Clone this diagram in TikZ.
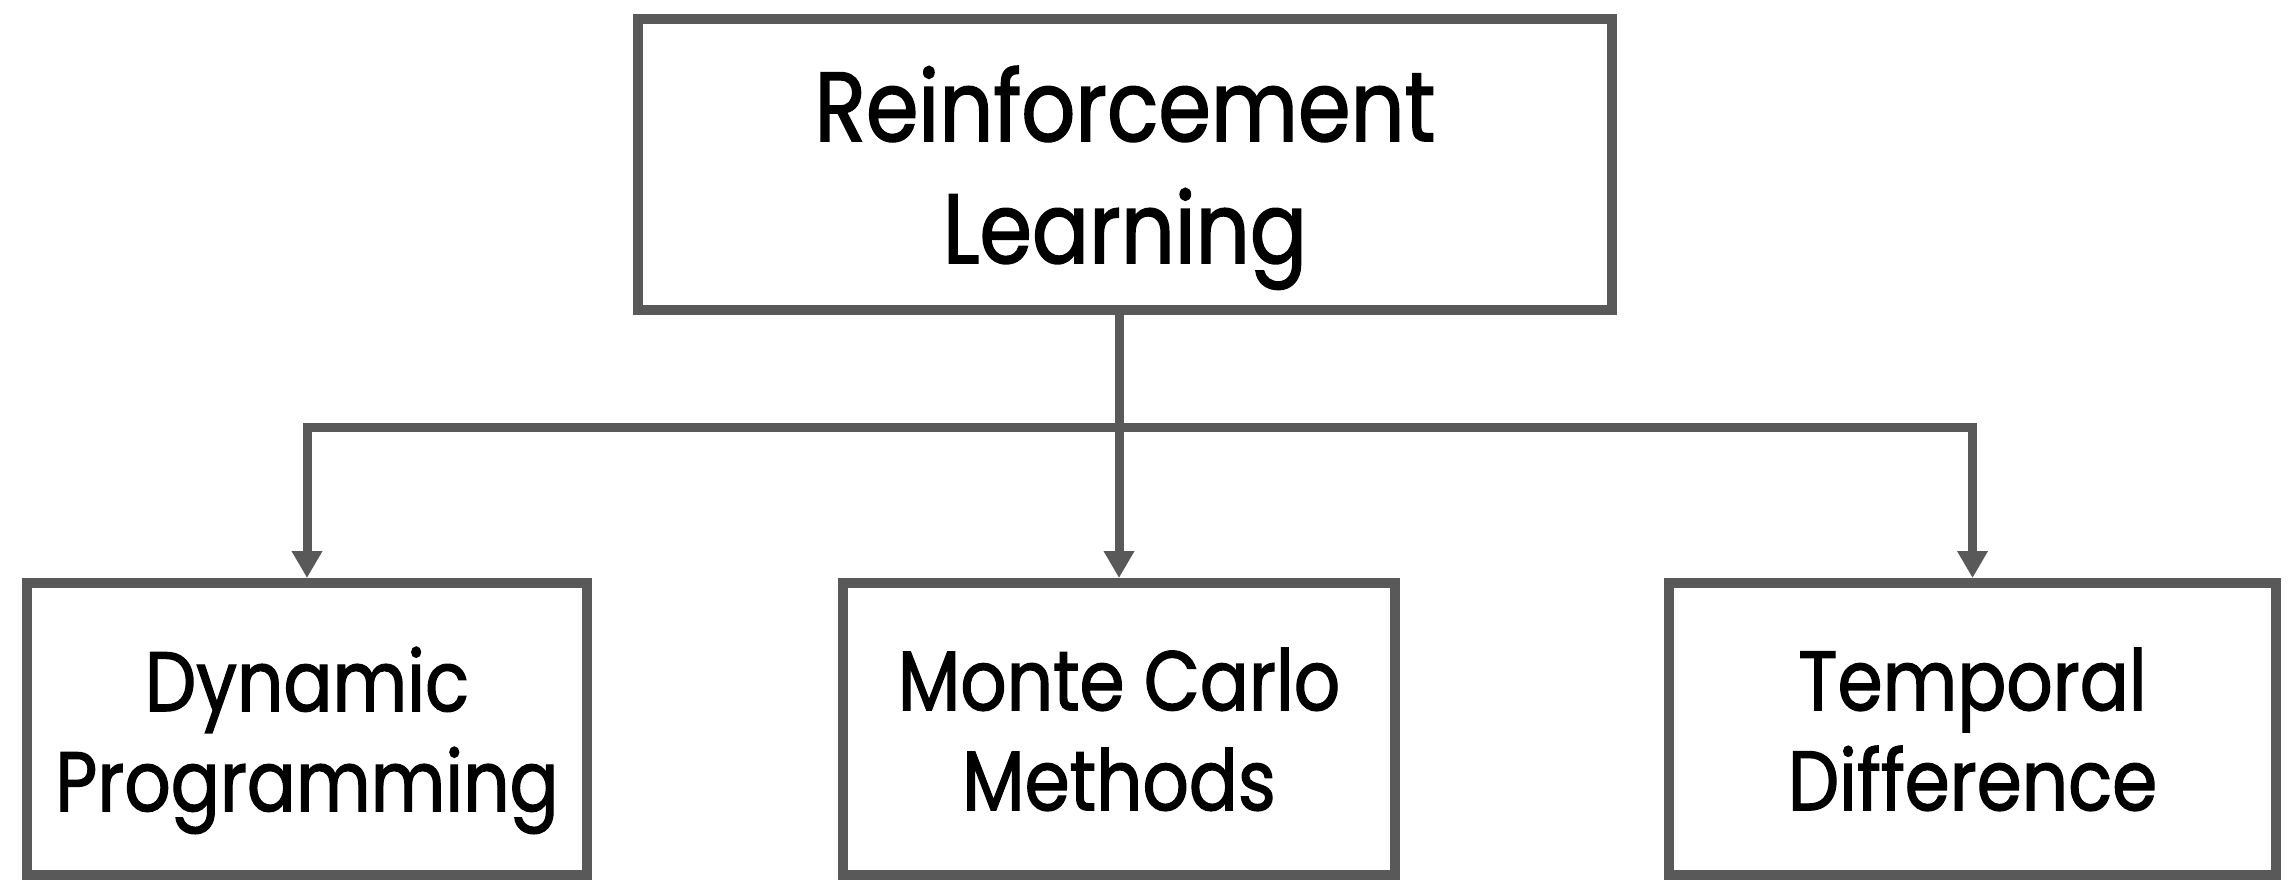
\documentclass[tikz,border=0pt]{standalone}
\usepackage{fontspec}
\setmainfont[FakeStretch=0.86,FakeBold=1.5]{Poppins}
\usetikzlibrary{arrows.meta}
\definecolor{boxgray}{RGB}{89,89,89}
\begin{document}
\begin{tikzpicture}[
  topbox/.style={draw=boxgray,line width=0.1cm,minimum width=9.74cm,minimum height=2.91cm,align=center,text depth=0pt,font=\fontsize{28}{34.7}\selectfont},
  leafbox/.style={draw=boxgray,line width=0.1cm,minimum height=2.92cm,align=center,text depth=0pt,font=\fontsize{24}{28.45}\selectfont},
  link/.style={draw=boxgray,line width=0.09cm},
  down/.style={link,-{Triangle[width=0.29cm,length=0.27cm]}}]
\useasboundingbox (0,0) rectangle (22.96,-8.94);
\node[topbox] (rl) at (11.25,-1.645) {Reinforcement\\Learning};
\node[leafbox,minimum width=5.6cm] (dp) at (3.07,-7.29) {Dynamic\\Programming};
\node[leafbox,minimum width=5.52cm] (mc) at (11.19,-7.29) {Monte Carlo\\Methods};
\node[leafbox,minimum width=6.07cm] (td) at (19.725,-7.29) {Temporal\\Difference};
\coordinate (bar) at (0,-4.27);
\draw[link,line cap=rect] (bar -| dp) -- (bar -| td);
\draw[down] (bar -| dp) -- (dp.north);
\draw[down] (rl.south -| mc) -- (mc.north);
\draw[down] (bar -| td) -- (td.north);
\end{tikzpicture}
\end{document}
